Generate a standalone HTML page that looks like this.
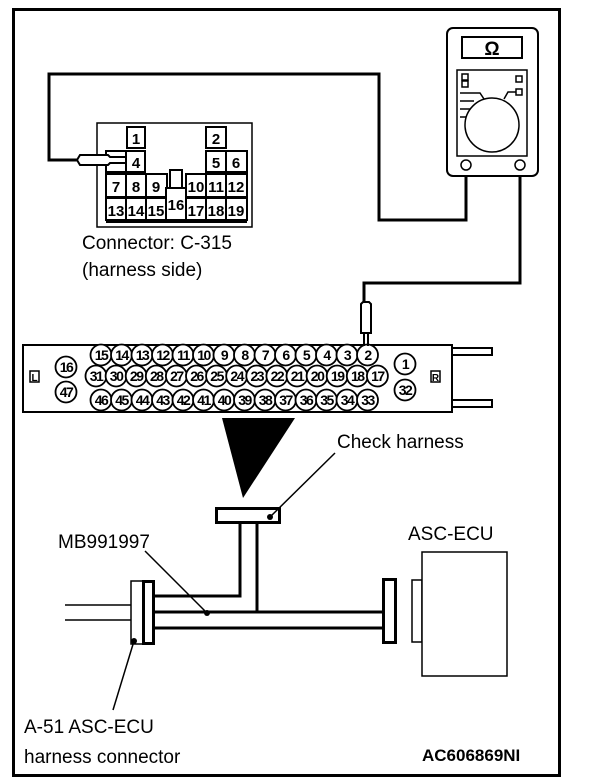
<!DOCTYPE html>
<html><head><meta charset="utf-8"><style>
html,body{margin:0;padding:0;background:#fff;}
svg{display:block;}
text{font-family:"Liberation Sans",sans-serif;}
.n{font-weight:bold;font-size:14px;text-anchor:middle;letter-spacing:-1.5px;}
.c{font-weight:bold;font-size:15px;text-anchor:middle;}
.lb{font-size:19px;}
</style></head><body>
<svg width="608" height="784" viewBox="0 0 608 784" xmlns="http://www.w3.org/2000/svg">
<rect x="13.5" y="9.5" width="546" height="766" fill="none" stroke="#000" stroke-width="3"/>

<polyline points="80,160 49,160 49,74 379,74 379,220 466,220 466,170" fill="none" stroke="#000" stroke-width="3"/>
<polyline points="520,170 520,283 364,283 364,302" fill="none" stroke="#000" stroke-width="3"/>

<g fill="#fff" stroke="#000" stroke-width="2">
<rect x="97" y="123" width="155" height="104" stroke-width="1.5"/>
<rect x="127" y="127" width="18" height="21"/>
<rect x="206" y="127" width="20" height="21"/>
<rect x="106" y="151" width="20" height="21"/>
<rect x="126" y="151" width="19" height="21"/>
<rect x="206" y="151" width="20" height="21"/>
<rect x="226" y="151" width="21" height="21"/>
<rect x="106" y="174" width="20" height="23"/>
<rect x="126" y="174" width="20" height="23"/>
<rect x="146" y="174" width="21" height="23"/>
<rect x="170" y="170" width="12" height="18"/>
<rect x="186" y="174" width="20" height="23"/>
<rect x="206" y="174" width="20" height="23"/>
<rect x="226" y="174" width="21" height="23"/>
<rect x="106" y="198" width="20" height="22"/>
<rect x="126" y="198" width="20" height="22"/>
<rect x="146" y="198" width="20" height="22"/>
<rect x="166" y="188" width="20" height="32"/>
<rect x="186" y="198" width="20" height="22"/>
<rect x="206" y="198" width="20" height="22"/>
<rect x="226" y="198" width="21" height="22"/>
<line x1="106" y1="222" x2="247" y2="222"/>
</g>
<g class="c">
<text x="136" y="144">1</text><text x="216" y="144">2</text>
<text x="136" y="168">4</text><text x="216" y="168">5</text><text x="236" y="168">6</text>
<text x="116" y="192">7</text><text x="136" y="192">8</text><text x="156" y="192">9</text>
<text x="196" y="192">10</text><text x="216" y="192">11</text><text x="236" y="192">12</text>
<text x="116" y="216">13</text><text x="136" y="216">14</text><text x="156" y="216">15</text>
<text x="176" y="210">16</text><text x="196" y="216">17</text><text x="216" y="216">18</text><text x="236" y="216">19</text>
</g>
<path d="M80,155 L108,155 L110,157 L126,157 L126,163 L110,163 L108,165 L80,165 L77,160 Z" fill="#fff" stroke="#000" stroke-width="2"/>
<text x="82" y="249" class="lb">Connector: C-315</text>
<text x="82" y="276" class="lb">(harness side)</text>

<rect x="447" y="28" width="91" height="148" rx="6" fill="#fff" stroke="#000" stroke-width="2"/>
<rect x="462" y="37" width="60" height="21" fill="#fff" stroke="#000" stroke-width="2"/>
<text x="492" y="55" style="font-size:19px;font-weight:bold;text-anchor:middle">Ω</text>
<rect x="457" y="70" width="70" height="86" fill="#fff" stroke="#000" stroke-width="1.5"/>
<rect x="462" y="74" width="6" height="6" fill="none" stroke="#000" stroke-width="1.5"/>
<rect x="462" y="81" width="6" height="6" fill="none" stroke="#000" stroke-width="1.5"/>
<rect x="516" y="76" width="6" height="6" fill="none" stroke="#000" stroke-width="1.5"/>
<rect x="516" y="89" width="6" height="6" fill="none" stroke="#000" stroke-width="1.5"/>
<polyline points="460,93 480,93 484,99" fill="none" stroke="#000" stroke-width="1.5"/>
<polyline points="516,92 508,92 504,99" fill="none" stroke="#000" stroke-width="1.5"/>
<line x1="460" y1="101" x2="474" y2="101" stroke="#000" stroke-width="1.5"/>
<line x1="460" y1="109" x2="470" y2="109" stroke="#000" stroke-width="1.5"/>
<line x1="460" y1="117" x2="466" y2="117" stroke="#000" stroke-width="1.5"/>
<circle cx="492" cy="125" r="27" fill="#fff" stroke="#000" stroke-width="1.5"/>
<circle cx="466" cy="165" r="5" fill="#fff" stroke="#000" stroke-width="1.5"/>
<circle cx="520" cy="165" r="5" fill="#fff" stroke="#000" stroke-width="1.5"/>

<rect x="23" y="345" width="429" height="67" fill="#fff" stroke="#000" stroke-width="2"/>
<rect x="452" y="348" width="40" height="7" fill="#fff" stroke="#000" stroke-width="2"/>
<rect x="452" y="400" width="40" height="7" fill="#fff" stroke="#000" stroke-width="2"/>
<rect x="30" y="371" width="9" height="11" fill="#fff" stroke="#000" stroke-width="1.5"/>
<text x="34.5" y="381" style="font-size:10px;font-weight:bold;text-anchor:middle">L</text>
<rect x="431" y="371" width="9" height="11" fill="#fff" stroke="#000" stroke-width="1.5"/>
<text x="435.5" y="381" style="font-size:10px;font-weight:bold;text-anchor:middle">R</text>
<g fill="#fff" stroke="#000" stroke-width="1.8">
<circle cx="66" cy="367" r="10.5"/><circle cx="66" cy="392" r="10.5"/>
<circle cx="405" cy="364" r="10.5"/><circle cx="405" cy="390" r="10.5"/>
</g>
<g class="n"><text x="66" y="372">16</text><text x="66" y="397">47</text><text x="405" y="369">1</text><text x="405" y="395">32</text></g>
<g fill="#fff" stroke="#000" stroke-width="1.8">
<circle cx="101" cy="355" r="10.5"/><circle cx="121.5" cy="355" r="10.5"/><circle cx="142" cy="355" r="10.5"/><circle cx="162.5" cy="355" r="10.5"/><circle cx="183" cy="355" r="10.5"/><circle cx="203.5" cy="355" r="10.5"/><circle cx="224" cy="355" r="10.5"/><circle cx="244.5" cy="355" r="10.5"/><circle cx="265" cy="355" r="10.5"/><circle cx="285.5" cy="355" r="10.5"/><circle cx="306" cy="355" r="10.5"/><circle cx="326.5" cy="355" r="10.5"/><circle cx="347" cy="355" r="10.5"/><circle cx="367.5" cy="355" r="10.5"/>
</g>
<g class="n">
<text x="101" y="360">15</text><text x="121.5" y="360">14</text><text x="142" y="360">13</text><text x="162.5" y="360">12</text><text x="183" y="360">11</text><text x="203.5" y="360">10</text><text x="224" y="360">9</text><text x="244.5" y="360">8</text><text x="265" y="360">7</text><text x="285.5" y="360">6</text><text x="306" y="360">5</text><text x="326.5" y="360">4</text><text x="347" y="360">3</text><text x="367.5" y="360">2</text>
</g>
<g fill="#fff" stroke="#000" stroke-width="1.8">
<circle cx="96" cy="376" r="10.5"/><circle cx="116.1" cy="376" r="10.5"/><circle cx="136.2" cy="376" r="10.5"/><circle cx="156.3" cy="376" r="10.5"/><circle cx="176.4" cy="376" r="10.5"/><circle cx="196.5" cy="376" r="10.5"/><circle cx="216.6" cy="376" r="10.5"/><circle cx="236.7" cy="376" r="10.5"/><circle cx="256.8" cy="376" r="10.5"/><circle cx="276.9" cy="376" r="10.5"/><circle cx="297" cy="376" r="10.5"/><circle cx="317.1" cy="376" r="10.5"/><circle cx="337.2" cy="376" r="10.5"/><circle cx="357.3" cy="376" r="10.5"/><circle cx="377.4" cy="376" r="10.5"/>
</g>
<g class="n">
<text x="96" y="381">31</text><text x="116.1" y="381">30</text><text x="136.2" y="381">29</text><text x="156.3" y="381">28</text><text x="176.4" y="381">27</text><text x="196.5" y="381">26</text><text x="216.6" y="381">25</text><text x="236.7" y="381">24</text><text x="256.8" y="381">23</text><text x="276.9" y="381">22</text><text x="297" y="381">21</text><text x="317.1" y="381">20</text><text x="337.2" y="381">19</text><text x="357.3" y="381">18</text><text x="377.4" y="381">17</text>
</g>
<g fill="#fff" stroke="#000" stroke-width="1.8">
<circle cx="101" cy="400" r="10.5"/><circle cx="121.5" cy="400" r="10.5"/><circle cx="142" cy="400" r="10.5"/><circle cx="162.5" cy="400" r="10.5"/><circle cx="183" cy="400" r="10.5"/><circle cx="203.5" cy="400" r="10.5"/><circle cx="224" cy="400" r="10.5"/><circle cx="244.5" cy="400" r="10.5"/><circle cx="265" cy="400" r="10.5"/><circle cx="285.5" cy="400" r="10.5"/><circle cx="306" cy="400" r="10.5"/><circle cx="326.5" cy="400" r="10.5"/><circle cx="347" cy="400" r="10.5"/><circle cx="367.5" cy="400" r="10.5"/>
</g>
<g class="n">
<text x="101" y="405">46</text><text x="121.5" y="405">45</text><text x="142" y="405">44</text><text x="162.5" y="405">43</text><text x="183" y="405">42</text><text x="203.5" y="405">41</text><text x="224" y="405">40</text><text x="244.5" y="405">39</text><text x="265" y="405">38</text><text x="285.5" y="405">37</text><text x="306" y="405">36</text><text x="326.5" y="405">35</text><text x="347" y="405">34</text><text x="367.5" y="405">33</text>
</g>
<path d="M361,304 L363,302 L369,302 L371,304 L371,333 L361,333 Z" fill="#fff" stroke="#000" stroke-width="2"/>
<line x1="364" y1="333" x2="364" y2="346" stroke="#000" stroke-width="2"/>
<line x1="368" y1="333" x2="368" y2="346" stroke="#000" stroke-width="2"/>

<polygon points="222,418 295,418 243,498" fill="#000"/>

<rect x="216.5" y="508.5" width="63" height="14" fill="#fff" stroke="#000" stroke-width="3"/>
<circle cx="270" cy="517" r="3" fill="#000"/>
<line x1="270" y1="517" x2="335" y2="453" stroke="#000" stroke-width="1.5"/>
<text x="337" y="448" class="lb">Check harness</text>
<g fill="none" stroke="#000" stroke-width="3">
<polyline points="240,523 240,596 153,596"/>
<polyline points="257,523 257,612"/>
<line x1="153" y1="612" x2="384" y2="612"/>
<line x1="153" y1="628" x2="384" y2="628"/>
</g>
<line x1="65" y1="605" x2="131" y2="605" stroke="#000" stroke-width="1.5"/>
<line x1="65" y1="620" x2="131" y2="620" stroke="#000" stroke-width="1.5"/>
<rect x="131" y="581" width="12" height="63" fill="#fff" stroke="#000" stroke-width="1.5"/>
<rect x="143.5" y="581.5" width="10" height="62" fill="#fff" stroke="#000" stroke-width="3"/>
<rect x="383.5" y="579.5" width="12" height="63" fill="#fff" stroke="#000" stroke-width="3"/>
<rect x="412" y="580" width="10" height="62" fill="#fff" stroke="#000" stroke-width="1.5"/>
<rect x="422" y="552" width="85" height="124" fill="#fff" stroke="#000" stroke-width="1.5"/>
<text x="408" y="540" class="lb">ASC-ECU</text>
<line x1="145" y1="551" x2="207" y2="613" stroke="#000" stroke-width="1.5"/>
<circle cx="207" cy="613" r="3" fill="#000"/>
<text x="58" y="548" class="lb">MB991997</text>
<line x1="134" y1="641" x2="113" y2="710" stroke="#000" stroke-width="1.5"/>
<circle cx="134" cy="641" r="3" fill="#000"/>
<text x="24" y="733" class="lb">A-51 ASC-ECU</text>
<text x="24" y="763" class="lb">harness connector</text>
<text x="422" y="761" style="font-size:17px;font-weight:bold">AC606869NI</text>
</svg>
</body></html>
